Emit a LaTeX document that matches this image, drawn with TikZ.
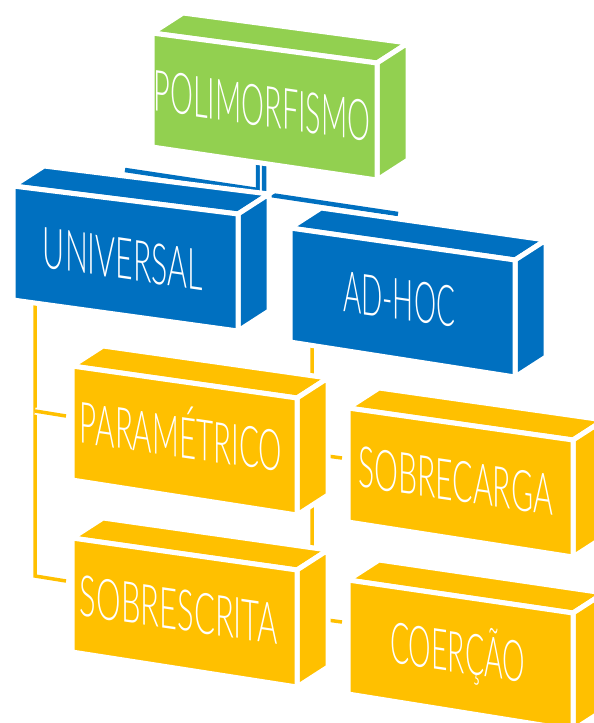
\documentclass[tikz,border=0pt]{standalone}
\usepackage{graphicx}
\usepackage{fontspec}
\newfontfamily\agency{Lato Light}
\definecolor{cgreen}{HTML}{92D050}
\definecolor{cblue}{HTML}{0070C0}
\definecolor{cgold}{HTML}{FFC000}
\tikzset{
  face/.style={fill=#1, draw=white, line width=5pt, line join=miter},
  bconn/.style={draw=white, double=cblue, double distance=4.5pt, line width=1.8pt},
  yconn/.style={draw=white, double=cgold, double distance=3.5pt, line width=1.8pt},
  lbl/.style={font=\agency\fontsize{57}{57}\selectfont, text=white, inner sep=0pt, transform shape, anchor=base}
}
% squeeze a text horizontally to a given width (in pt)
\newcommand\fitw[2]{\setbox0\hbox{#2}\pgfmathsetmacro\sxfac{#1/\the\wd0}\scalebox{\sxfac}[1]{\box0}}
% #1 name, #2 x, #3 y (downwards), #4 rise of the top edge, #5 colour
\newcommand\solidbox[5]{%
  \coordinate (#1-tl) at (#2,-#3);
  \coordinate (#1-tr) at ({#2+225},{-(#3+#4)});
  \coordinate (#1-br) at ({#2+225},{-(#3+#4+117)});
  \coordinate (#1-bl) at (#2,{-(#3+114)});
  \path[face=#5] (#1-tl) -- ++(31,20) -- ([shift={(31,20)}]#1-tr) -- (#1-tr) -- cycle;
  \path[face=#5] (#1-tr) -- ++(31,20) -- ([shift={(31,20)}]#1-br) -- (#1-br) -- cycle;
  \path[face=#5] (#1-tl) -- (#1-tr) -- (#1-br) -- (#1-bl) -- cycle;
}
% #1 name, #2 x, #3 baseline y (downwards), #4 width, #5 text
\newcommand\boxlabel[5]{%
  \begin{scope}[shift={(#2,-#3)}, yslant=-0.145]
    \node[lbl] (#1) at (0,0) {\fitw{#4}{#5}};
  \end{scope}
}
\begin{document}
\begin{tikzpicture}[x=1pt, y=1pt]
\useasboundingbox (0,0) rectangle (594,-723);
\clip (0,0) rectangle (594,-723);
% connector end points
\coordinate (bstemL) at (258,-160);
\coordinate (bjL) at (258,-190);
\coordinate (bendL) at (125,-170);
\coordinate (bstemR) at (264,-160);
\coordinate (bjR) at (264,-194);
\coordinate (bendR) at (398,-214);
\coordinate (ytopL) at (35,-300);
\coordinate (ybotL) at (35,-576);
\coordinate (yendL2) at (66,-581);
\coordinate (yjL1) at (35,-411);
\coordinate (yendL1) at (66,-416);
\coordinate (ytopR) at (312,-340);
\coordinate (ybotR) at (312,-618);
\coordinate (yendR2) at (342,-622);
\coordinate (yjR1) at (312,-454);
\coordinate (yendR1) at (342,-458);
% connectors
\draw[bconn] (bstemL) -- (bjL) -- (bendL);
\draw[bconn] (bstemR) -- (bjR) -- (bendR);
\draw[yconn] (ytopL) -- (ybotL) -- (yendL2);
\draw[yconn] (yjL1) -- (yendL1);
\draw[yconn] (ytopR) -- (ybotR) -- (yendR2);
\draw[yconn] (yjR1) -- (yendR1);
% boxes
\solidbox{poli}{152}{33}{30}{cgreen}
\boxlabel{tpoli}{262}{126}{217}{POLIMORFISMO}
\solidbox{univ}{13}{186}{28}{cblue}
\boxlabel{tuniv}{123}{279}{160}{UNIVERSAL}
\solidbox{adhoc}{290}{228}{32}{cblue}
\boxlabel{tadhoc}{399}{319.5}{112}{AD-HOC}
\solidbox{param}{72}{366}{32}{cgold}
\boxlabel{tparam}{181}{457.5}{202}{PARAMÉTRICO}
\solidbox{sobrec}{348}{408}{32}{cgold}
\boxlabel{tsobrec}{455.5}{501}{195}{SOBRECARGA}
\solidbox{sobres}{72}{538}{32}{cgold}
\boxlabel{tsobres}{179}{630}{198}{SOBRESCRITA}
\solidbox{coer}{348}{580}{33}{cgold}
\boxlabel{tcoer}{457.5}{672.5}{135}{COERÇÃO}
\end{tikzpicture}
\end{document}
